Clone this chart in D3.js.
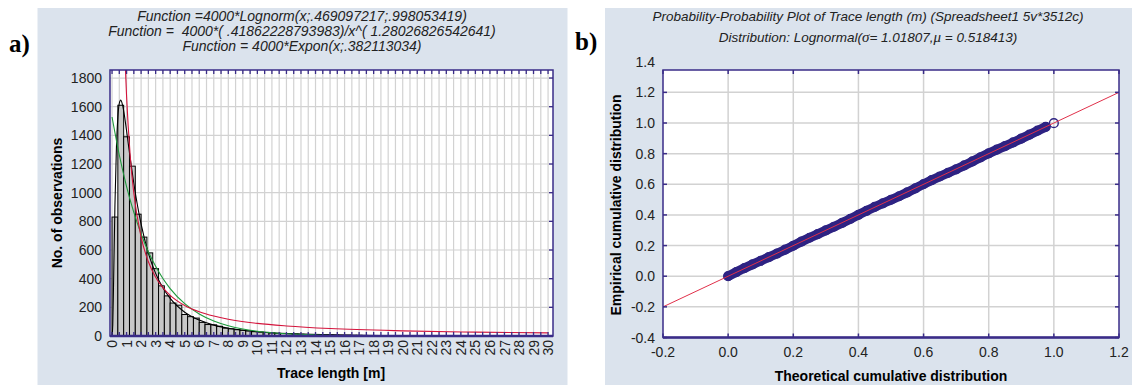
<!DOCTYPE html>
<html>
<head>
<meta charset="utf-8">
<script src="https://cdnjs.cloudflare.com/ajax/libs/d3/7.8.5/d3.min.js"></script>
<style>
  body { margin: 0; background: #fff; }
  svg { display: block; font-family: "Liberation Sans", Arial, sans-serif; }
  text { white-space: pre; }
</style>
</head>
<body>
<script>
var W = 1132, H = 385;

// ---- panel a) histogram of trace length, bins 0.4 m wide from 0
var binWidth = 0.4;
var counts = [830, 1610, 1390, 1185, 850, 690, 580, 470, 350, 280,
              230, 215, 150, 135, 125, 95, 80, 78, 68, 55,
              50, 44, 40, 36, 30, 28, 25, 22, 19, 18,
              16, 14, 12, 11, 10, 9, 8, 8, 7, 6,
              6, 5, 5, 4, 3, 3, 2, 2, 2, 1,
              1, 1, 1, 1, 1];

// fitted curves, values
var lognormX = [0, 0.05, 0.1, 0.2, 0.3, 0.4, 0.5, 0.6, 0.75, 1, 1.25, 1.5, 2, 2.5, 3, 3.5, 4, 5, 6, 7, 8, 10, 12, 15, 20, 25, 30];
var lognormY = [0, 77, 338, 915, 1308, 1525, 1624, 1646, 1599, 1432, 1241, 1064, 780, 578, 437, 336, 262, 166, 111, 76, 54, 30, 17, 8.6, 3.2, 1.4, 0.7];

var powerX = [0.9, 1, 1.25, 1.5, 2, 2.5, 3, 3.5, 4, 5, 6, 7, 8, 10, 12, 15, 20, 25, 30];
var powerY = [1916, 1674, 1258, 996, 690, 518, 410, 337, 284, 213, 169, 139, 117, 88, 70, 52, 36, 27, 21.5];

var exponX = [0, 0.5, 1, 1.5, 2, 2.5, 3, 3.5, 4, 5, 6, 7, 8, 9, 10, 12, 14, 16, 20, 30];
var exponY = [1528, 1263, 1043, 862, 712, 588, 486, 401, 331, 226, 154, 105, 72, 49, 33.5, 15.6, 7.3, 3.4, 0.7, 0];

var xTicksA = [0, 1, 2, 3, 4, 5, 6, 7, 8, 9, 10, 11, 12, 13, 14, 15, 16, 17, 18, 19, 20, 21, 22, 23, 24, 25, 26, 27, 28, 29, 30];
var yTicksA = [0, 200, 400, 600, 800, 1000, 1200, 1400, 1600, 1800];

var titleA = ["Function =4000*Lognorm(x;.469097217;.998053419)",
              "Function =  4000*( .41862228793983)/x^( 1.28026826542641)",
              "Function = 4000*Expon(x;.382113034)"];

// ---- panel b) P-P plot
var theoretical = [0.000, 0.025, 0.050, 0.075, 0.100, 0.125, 0.150, 0.175, 0.200, 0.225,
                   0.250, 0.275, 0.300, 0.325, 0.350, 0.375, 0.400, 0.425, 0.450, 0.475,
                   0.500, 0.525, 0.550, 0.575, 0.600, 0.625, 0.650, 0.675, 0.700, 0.725,
                   0.750, 0.775, 0.800, 0.825, 0.850, 0.875, 0.900, 0.925, 0.950, 0.975, 1.000];
var empirical   = [0.000, 0.027, 0.053, 0.077, 0.101, 0.124, 0.148, 0.173, 0.199, 0.226,
                   0.251, 0.275, 0.299, 0.323, 0.348, 0.374, 0.401, 0.427, 0.452, 0.476,
                   0.499, 0.522, 0.547, 0.574, 0.601, 0.627, 0.651, 0.674, 0.698, 0.723,
                   0.749, 0.776, 0.802, 0.826, 0.849, 0.873, 0.898, 0.924, 0.950, 0.975, 0.999];
var refLine = [-0.2, 1.2];
var xTicksB = [-0.2, 0.0, 0.2, 0.4, 0.6, 0.8, 1.0, 1.2];
var yTicksB = [-0.4, -0.2, 0.0, 0.2, 0.4, 0.6, 0.8, 1.0, 1.2, 1.4];
var titleB1 = "Probability-Probability Plot of Trace length (m) (Spreadsheet1 5v*3512c)";

var panelBg = "#dbe3ed", frame = "#3a2c88", grid = "#d2d2d2";

var svg = d3.select("body").append("svg")
  .attr("width", W)
  .attr("height", H);

svg.append("rect").attr("x", 37.5).attr("y", 8).attr("width", 530).attr("height", H - 8).attr("fill", panelBg);
svg.append("rect").attr("x", 605).attr("y", 8).attr("width", W - 605).attr("height", H - 8).attr("fill", panelBg);

svg.append("text").attr("x", 9).attr("y", 52)
  .style("font-family", "'Liberation Serif', 'Times New Roman', serif")
  .style("font-weight", "bold").style("font-size", "25px").text("a)");
svg.append("text").attr("x", 575).attr("y", 50)
  .style("font-family", "'Liberation Serif', 'Times New Roman', serif")
  .style("font-weight", "bold").style("font-size", "25px").text("b)");

// ================= panel a =================
var xA = d3.scaleLinear().domain([-0.14, 30.34]).range([110, 553]);
var yA = d3.scaleLinear().domain([0, 1856]).range([336, 70]);

var ga = svg.append("g");
ga.append("rect").attr("x", 110).attr("y", 70).attr("width", 443).attr("height", 266).attr("fill", "#fff");

var gridX = d3.range(0, 30.01, 0.5);
ga.selectAll(".gx").data(gridX).enter().append("line")
  .attr("x1", function(d) { return xA(d); }).attr("x2", function(d) { return xA(d); })
  .attr("y1", 70).attr("y2", 336)
  .attr("stroke", grid).attr("stroke-width", 1.2);
ga.selectAll(".gy").data(yTicksA.slice(1)).enter().append("line")
  .attr("x1", 110).attr("x2", 553)
  .attr("y1", function(d) { return yA(d); }).attr("y2", function(d) { return yA(d); })
  .attr("stroke", grid).attr("stroke-width", 1.2);

ga.append("clipPath").attr("id", "clipA").append("rect")
  .attr("x", 110).attr("y", 70).attr("width", 443).attr("height", 266);

var plotA = ga.append("g").attr("clip-path", "url(#clipA)");

plotA.selectAll(".bar").data(counts).enter().append("rect")
  .attr("x", function(d, i) { return xA(i * binWidth); })
  .attr("width", xA(binWidth) - xA(0))
  .attr("y", function(d) { return yA(d); })
  .attr("height", function(d) { return yA(0) - yA(d); })
  .attr("fill", "#c8c8c8").attr("stroke", "#000").attr("stroke-width", 1);

function curve(xs, ys, color) {
  var pts = xs.map(function(x, i) { return [x, ys[i]]; });
  plotA.append("path").datum(pts)
    .attr("d", d3.line().x(function(d) { return xA(d[0]); }).y(function(d) { return yA(d[1]); })
      .curve(d3.curveMonotoneX))
    .attr("fill", "none").attr("stroke", color).attr("stroke-width", 1.1);
}
curve(lognormX, lognormY, "#000");
curve(exponX, exponY, "#1e9a3c");
curve(powerX, powerY, "#d4143c");

// frame and inward ticks
ga.append("rect").attr("x", 110).attr("y", 70).attr("width", 443).attr("height", 266)
  .attr("fill", "none").attr("stroke", frame).attr("stroke-width", 1.5);
ga.append("line").attr("x1", 110).attr("x2", 553).attr("y1", 336).attr("y2", 336)
  .attr("stroke", frame).attr("stroke-width", 2.5);
ga.selectAll(".tt").data(gridX).enter().append("line")
  .attr("x1", function(d) { return xA(d); }).attr("x2", function(d) { return xA(d); })
  .attr("y1", 70).attr("y2", 74).attr("stroke", frame).attr("stroke-width", 1.3);
ga.selectAll(".tb").data(gridX).enter().append("line")
  .attr("x1", function(d) { return xA(d); }).attr("x2", function(d) { return xA(d); })
  .attr("y1", 336).attr("y2", 332).attr("stroke", frame).attr("stroke-width", 1.3);
ga.selectAll(".tr").data(yTicksA).enter().append("line")
  .attr("x1", 553).attr("x2", 549)
  .attr("y1", function(d) { return yA(d); }).attr("y2", function(d) { return yA(d); })
  .attr("stroke", frame).attr("stroke-width", 1.3);

ga.selectAll(".yl").data(yTicksA).enter().append("text")
  .attr("x", 102).attr("y", function(d) { return yA(d); }).attr("dy", "0.36em")
  .attr("text-anchor", "end").style("font-size", "14px").attr("fill", "#222")
  .text(function(d) { return d; });
ga.selectAll(".xl").data(xTicksA).enter().append("text")
  .attr("transform", function(d) { return "translate(" + xA(d) + ",340)rotate(-90)"; })
  .attr("dy", "0.36em").attr("text-anchor", "end").style("font-size", "14px").attr("fill", "#222")
  .text(function(d) { return d; });

ga.append("text").attr("transform", "translate(62,203)rotate(-90)")
  .attr("text-anchor", "middle").style("font-size", "14px").style("font-weight", "bold")
  .text("No. of observations");
ga.append("text").attr("x", 331).attr("y", 378)
  .attr("text-anchor", "middle").style("font-size", "14px").style("font-weight", "bold")
  .text("Trace length [m]");
ga.selectAll(".ta").data(titleA).enter().append("text")
  .attr("x", 302).attr("y", function(d, i) { return 21 + i * 15; })
  .attr("text-anchor", "middle").style("font-size", "14px").style("font-style", "italic")
  .attr("fill", "#222").text(function(d) { return d; });

// ================= panel b =================
var xB = d3.scaleLinear().domain([-0.2, 1.2]).range([663, 1119]);
var yB = d3.scaleLinear().domain([-0.4, 1.346]).range([337.5, 70]);

var gb = svg.append("g");
gb.append("rect").attr("x", 663).attr("y", 70).attr("width", 456).attr("height", 267.5).attr("fill", "#fff");

gb.selectAll(".gx").data(xTicksB.slice(1, -1)).enter().append("line")
  .attr("x1", function(d) { return xB(d); }).attr("x2", function(d) { return xB(d); })
  .attr("y1", 70).attr("y2", 337.5).attr("stroke", grid).attr("stroke-width", 1.5);
gb.selectAll(".gy").data(yTicksB.slice(1, -1)).enter().append("line")
  .attr("x1", 663).attr("x2", 1119)
  .attr("y1", function(d) { return yB(d); }).attr("y2", function(d) { return yB(d); })
  .attr("stroke", grid).attr("stroke-width", 1.5);

gb.append("clipPath").attr("id", "clipB").append("rect")
  .attr("x", 663).attr("y", 70).attr("width", 456).attr("height", 267.5);
var plotB = gb.append("g").attr("clip-path", "url(#clipB)");

var pp = theoretical.map(function(t, i) { return [t, empirical[i]]; });
var ink = "#2e2383";
plotB.append("path").datum(pp.slice(0, -1))
  .attr("d", d3.line().x(function(d) { return xB(d[0]); }).y(function(d) { return yB(d[1]); }))
  .attr("fill", "none").attr("stroke", ink).attr("stroke-width", 9.5).attr("stroke-linecap", "round");
plotB.selectAll(".pt").data(pp).enter().append("circle")
  .attr("cx", function(d) { return xB(d[0]); }).attr("cy", function(d) { return yB(d[1]); })
  .attr("r", 4.4).attr("fill", "none").attr("stroke", ink).attr("stroke-width", 1.4);
plotB.append("line")
  .attr("x1", xB(refLine[0])).attr("y1", yB(refLine[0]))
  .attr("x2", xB(refLine[1])).attr("y2", yB(refLine[1]))
  .attr("stroke", "#e0304a").attr("stroke-width", 1);

gb.append("rect").attr("x", 663).attr("y", 70).attr("width", 456).attr("height", 267.5)
  .attr("fill", "none").attr("stroke", frame).attr("stroke-width", 1.5);
gb.append("line").attr("x1", 663).attr("x2", 1119).attr("y1", 337.5).attr("y2", 337.5)
  .attr("stroke", frame).attr("stroke-width", 2.5);
xTicksB.forEach(function(d) {
  gb.append("line").attr("x1", xB(d)).attr("x2", xB(d)).attr("y1", 70).attr("y2", 74).attr("stroke", frame).attr("stroke-width", 1.5);
  gb.append("line").attr("x1", xB(d)).attr("x2", xB(d)).attr("y1", 337.5).attr("y2", 333.5).attr("stroke", frame).attr("stroke-width", 1.5);
});
yTicksB.slice(0, -1).forEach(function(d) {
  gb.append("line").attr("x1", 663).attr("x2", 667).attr("y1", yB(d)).attr("y2", yB(d)).attr("stroke", frame).attr("stroke-width", 1.5);
  gb.append("line").attr("x1", 1119).attr("x2", 1115).attr("y1", yB(d)).attr("y2", yB(d)).attr("stroke", frame).attr("stroke-width", 1.5);
});

// hyphen-minus as in the original labels
var fmt = function(d) { return d3.format(".1f")(d).replace("\u2212", "-"); };
gb.selectAll(".yl").data(yTicksB).enter().append("text")
  .attr("x", 655).attr("y", function(d) { return yB(d); }).attr("dy", "0.36em")
  .attr("text-anchor", "end").style("font-size", "14px").attr("fill", "#222")
  .text(fmt);
gb.selectAll(".xl").data(xTicksB).enter().append("text")
  .attr("x", function(d) { return xB(d); }).attr("y", 357)
  .attr("text-anchor", "middle").style("font-size", "14px").attr("fill", "#222")
  .text(fmt);

gb.append("text").attr("transform", "translate(621,205)rotate(-90)")
  .attr("text-anchor", "middle").style("font-size", "14px").style("font-weight", "bold")
  .text("Empirical cumulative distribution");
gb.append("text").attr("x", 891).attr("y", 381)
  .attr("text-anchor", "middle").style("font-size", "14px").style("font-weight", "bold")
  .text("Theoretical cumulative distribution");

gb.append("text").attr("x", 868).attr("y", 21)
  .attr("text-anchor", "middle").style("font-size", "13.5px").style("font-style", "italic")
  .attr("fill", "#222").text(titleB1);
var t2 = gb.append("text").attr("x", 868).attr("y", 42)
  .attr("text-anchor", "middle").style("font-size", "13.5px").style("font-style", "italic")
  .attr("fill", "#222");
t2.append("tspan").text("Distribution: Lognormal(");
t2.append("tspan").style("font-family", "'Liberation Serif', serif").style("font-size", "15px").text("σ");
t2.append("tspan").text("= 1.01807,");
t2.append("tspan").style("font-family", "'Liberation Serif', serif").style("font-size", "15px").text("μ");
t2.append("tspan").text(" = 0.518413)");
</script>
</body>
</html>
